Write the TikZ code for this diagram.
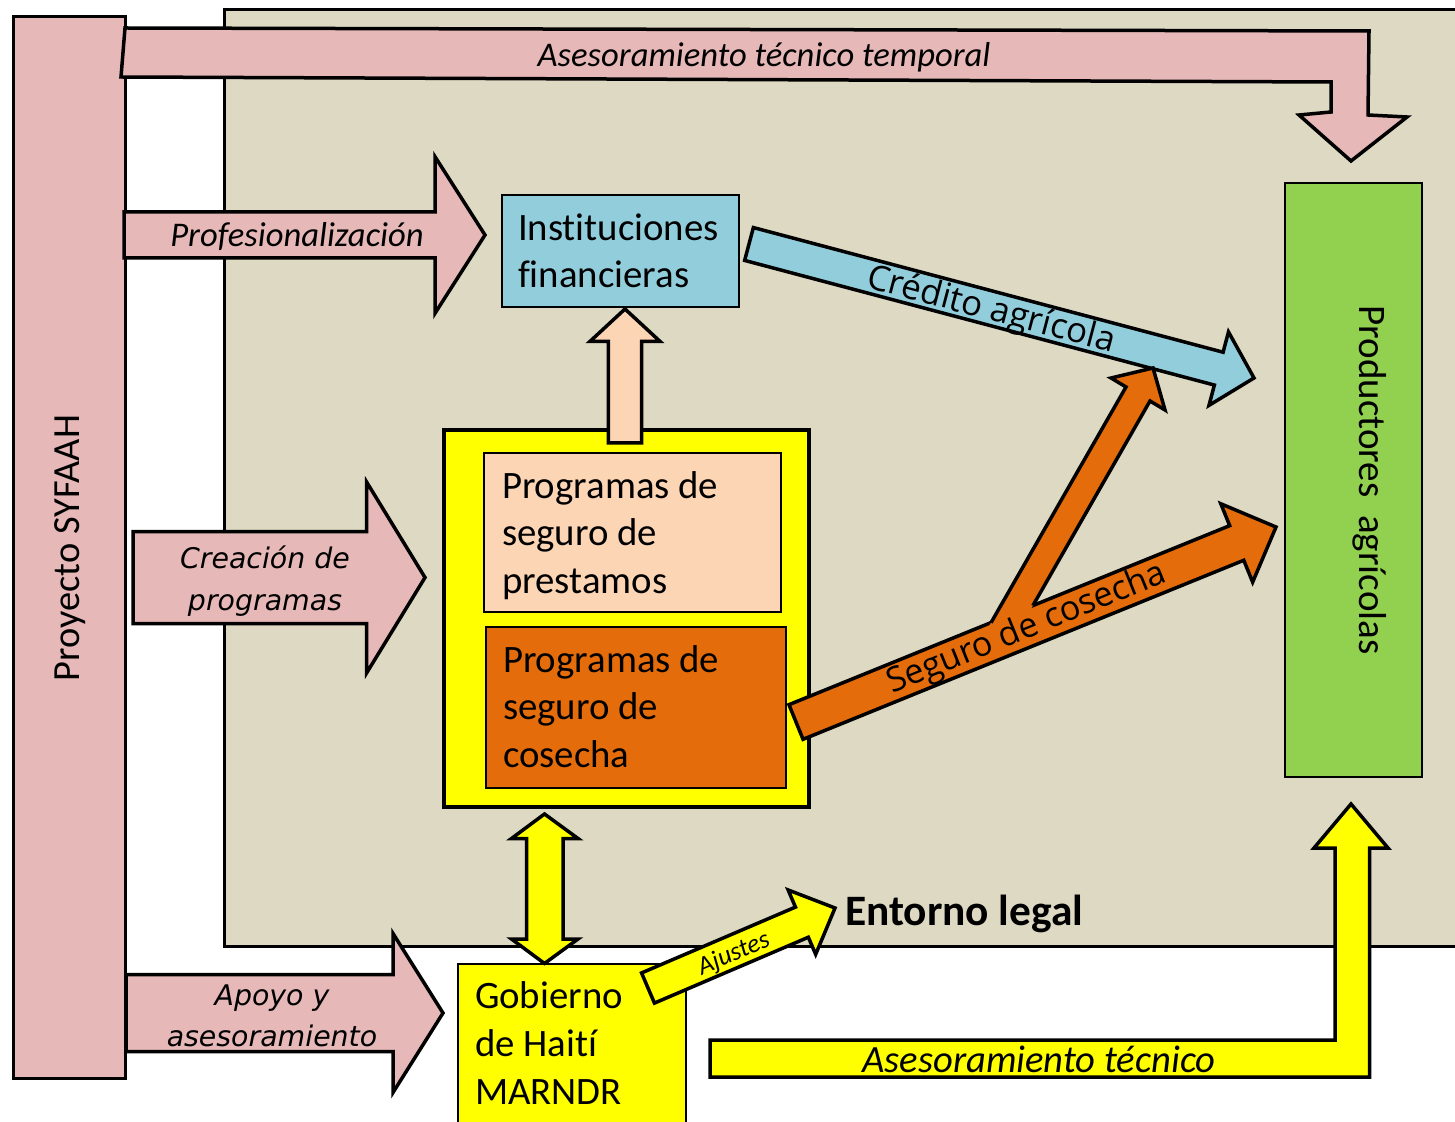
\documentclass[tikz,border=0pt]{standalone}
\usepackage{fontspec}
\setmainfont{Carlito}[Ligatures=NoCommon]
\newfontfamily\dvs{DejaVu Sans}
\newfontfamily\osans{Open Sans}
\usetikzlibrary{calc}
\definecolor{pinkc}{HTML}{E6B9B8}
\definecolor{beigec}{HTML}{DDD9C3}
\definecolor{bluec}{HTML}{92CDDC}
\definecolor{peachc}{HTML}{FCD5B5}
\definecolor{orangec}{HTML}{E46C0A}
\definecolor{greenc}{HTML}{92D050}
\definecolor{yellowc}{HTML}{FFFF00}
\tikzset{
  arr/.style={draw=black, line width=1.75pt, line join=miter, miter limit=10},
  pinkarr/.style={arr, fill=pinkc},
  bluearr/.style={arr, fill=bluec},
  orangearr/.style={arr, fill=orangec},
  yellowarr/.style={arr, fill=yellowc},
  peacharr/.style={arr, fill=peachc},
  thinbox/.style={draw=black, line width=0.75pt, inner sep=0pt, outer sep=0pt, anchor=north west},
  lbl/.style={inner sep=0pt, outer sep=0pt, text=black},
  boxfont/.style={font={\fontsize{19.4}{23.6}\selectfont}},
}
% block arrow: style, start coord, tip coord, shaft half width, head half width, head length
\newcommand\blockarrow[6]{%
  \coordinate (bahead) at ($(#3)!#6!(#2)$);
  \filldraw[#1] ($(#2)!#4!90:(#3)$) -- ($(bahead)!#4!90:(#3)$) -- ($(bahead)!#5!90:(#3)$) -- (#3)
    -- ($(bahead)!#5!-90:(#3)$) -- ($(bahead)!#4!-90:(#3)$) -- ($(#2)!#4!-90:(#3)$) -- cycle;}
\begin{document}
\begin{tikzpicture}[x=0.5pt,y=-0.5pt]
\clip (0,0) rectangle (1455,1122);
\fill[white] (0,0) rectangle (1455,1122);

% legal environment
\node[draw=black, fill=beigec, line width=1.3pt, inner sep=0pt, anchor=north west,
      minimum width=619.5pt, minimum height=468.5pt] (entorno) at (223,8) {};
\node[lbl, anchor=base west, font={\fontsize{21.7}{26}\selectfont\bfseries}] (entornotxt) at (845,925) {Entorno legal};

% project bar
\node[draw=black, fill=pinkc, line width=1.35pt, inner sep=0pt, anchor=north west,
      minimum width=56pt, minimum height=531pt] (syfaah) at (12,15) {};
\node[lbl, rotate=90, font={\fontsize{19.2}{23}\selectfont}] (syfaahtxt) at (70,548) {Proyecto SYFAAH};

% top bent arrow
\coordinate (topA) at (123,52);
\coordinate (topB) at (1351,161);
\filldraw[pinkarr] (125,28) -- (1369,31) -- (1368,115) -- (1407,117) -- (topB) -- (1299,115)
  -- (1331,112) -- (1331,82) -- (121,77) -- cycle;
\node[lbl, anchor=base, font={\fontsize{17.3}{21}\selectfont\itshape}] (toptxt) at (764,67) {Asesoramiento técnico temporal};

% boxes
\node[thinbox, fill=bluec, minimum width=118.5pt, minimum height=56pt] (inst) at (502,195) {};
\node[lbl, boxfont, anchor=base west, align=left] (insttxt) at (518,288) {Instituciones\\financieras};

\node[thinbox, fill=greenc, minimum width=68.5pt, minimum height=297pt] (prod) at (1285,183) {};
\node[lbl, rotate=-90, font={\fontsize{19.5}{23}\selectfont}] (prodtxt) at (1370,480) {Productores\ \ agrícolas};

\node[draw=black, fill=yellowc, line width=2pt, inner sep=0pt, anchor=north west,
      minimum width=182.5pt, minimum height=188.5pt] (prog) at (442,428) {};
\node[thinbox, fill=peachc, minimum width=148.5pt, minimum height=79.5pt] (prest) at (484,453) {};
\node[lbl, boxfont, anchor=base west, align=left] (presttxt) at (502,593) {Programas de\\seguro de\\prestamos};
\node[thinbox, fill=orangec, minimum width=150pt, minimum height=80.5pt] (cosech) at (486,627) {};
\node[lbl, boxfont, anchor=base west, align=left] (cosechtxt) at (503,767) {Programas de\\seguro de\\cosecha};

% pink arrows from the project
\coordinate (profA) at (124,235);
\coordinate (profB) at (485,235);
\blockarrow{pinkarr}{profA}{profB}{11.5pt}{39.15pt}{25pt}
\node[lbl, anchor=base, font={\fontsize{17.3}{21}\selectfont\itshape}] (proftxt) at (297,247) {Profesionalización};

\coordinate (creaA) at (133,577.5);
\coordinate (creaB) at (425,577.5);
\blockarrow{pinkarr}{creaA}{creaB}{23pt}{47.75pt}{29.2pt}
\node[lbl, anchor=base, align=center, font={\fontsize{14.2}{20.85}\selectfont\dvs\itshape}] (creatxt) at (265,610) {Creación de\\programas};

\coordinate (apoA) at (126,1013);
\coordinate (apoB) at (443,1013);
\blockarrow{pinkarr}{apoA}{apoB}{19.25pt}{39.75pt}{25pt}
\node[lbl, anchor=base, align=center, font={\fontsize{14.2}{20.5}\selectfont\dvs\itshape}] (apotxt) at (272,1046) {Apoyo y\\asesoramiento};

% peach arrow up to the institutions
\coordinate (upA) at (625,443);
\coordinate (upB) at (625,309);
\blockarrow{peacharr}{upA}{upB}{8.35pt}{17.5pt}{16.2pt}

% credit arrow
\coordinate (credA) at (749,244);
\coordinate (credB) at (1254,378);
\blockarrow{bluearr}{credA}{credB}{8.5pt}{19pt}{18.25pt}
\node[lbl, rotate=-14.8, font={\fontsize{17.4}{21}\selectfont\osans}] (credtxt) at (991,311) {Crédito agrícola};

% harvest insurance arrow
\coordinate (segA) at (796,722);
\coordinate (segB) at (1276,527);
\blockarrow{orangearr}{segA}{segB}{9.35pt}{21.15pt}{21.2pt}
% branch
\coordinate (brTip) at (1153,368);
\fill[orangec] (987,629.6) -- (1126,387) -- (1111,378) -- (brTip) -- (1165,410) -- (1150,401) -- (1029,612.5) -- cycle;
\draw[arr] (991,622.7) -- (1126,387) -- (1111,378) -- (brTip) -- (1165,410) -- (1150,401) -- (1032.9,605.6);
\node[lbl, rotate=22.1, font={\fontsize{17.1}{21}\selectfont\osans}] (segtxt) at (1027,629) {Seguro de cosecha};

% government
\node[thinbox, fill=yellowc, minimum width=114pt, minimum height=83pt] (gob) at (458,964) {};
\node[lbl, anchor=base west, align=left, font={\fontsize{19.4}{24}\selectfont}] (gobtxt) at (475,1104) {Gobierno\\de Haití\\MARNDR};

% double arrow
\coordinate (dT) at (544.5,814);
\coordinate (dB) at (544.5,963.5);
\filldraw[yellowarr] (dT) -- ($(dT)+(33.5,24.5)$) -- ($(dT)+(18.5,24.5)$) -- ($(dB)+(18.5,-24.5)$) -- ($(dB)+(33.5,-24.5)$)
  -- (dB) -- ($(dB)+(-33,-24.5)$) -- ($(dB)+(-18,-24.5)$) -- ($(dT)+(-18,24.5)$) -- ($(dT)+(-33,24.5)$) -- cycle;

% adjustments arrow
\coordinate (ajA) at (648,988);
\coordinate (ajB) at (835,908);
\blockarrow{yellowarr}{ajA}{ajB}{8.2pt}{17.5pt}{18pt}
\node[lbl, rotate=23.2, font={\fontsize{13}{15}\selectfont\itshape}] (ajtxt) at (734,954) {Ajustes};

% technical advice bent arrow
\coordinate (tecA) at (710,1058);
\coordinate (tecB) at (1351,804);
\filldraw[yellowarr] (710,1040) -- (1335,1040) -- (1335,848) -- (1314,848) -- (tecB) -- (1388,848)
  -- (1369.5,848) -- (1369.5,1077) -- (710,1077) -- cycle;
\node[lbl, anchor=base, font={\fontsize{19.3}{23}\selectfont\itshape}] (tectxt) at (1039,1072) {Asesoramiento técnico};
\end{tikzpicture}
\end{document}
